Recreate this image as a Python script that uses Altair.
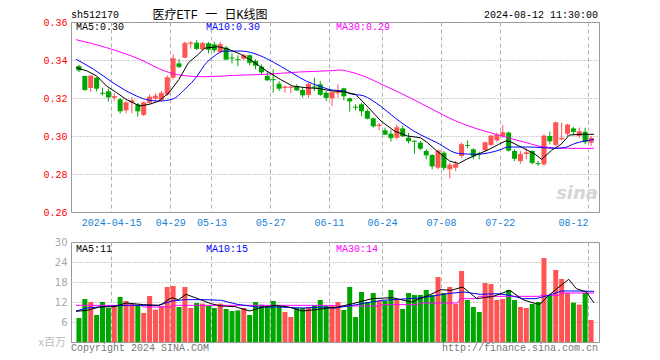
import altair as alt
import pandas as pd

# ---------------- data ----------------
OPEN = [0.3368, 0.3316, 0.3253, 0.3307, 0.3227, 0.3235, 0.3201, 0.3193, 0.3135, 0.3176,
        0.3167, 0.3111, 0.3175, 0.3197, 0.3190, 0.3219, 0.3307, 0.3382, 0.3412, 0.3486,
        0.3491, 0.3456, 0.3488, 0.3482, 0.3442, 0.3465, 0.3412, 0.3405, 0.3407, 0.3425,
        0.3395, 0.3365, 0.3316, 0.3300, 0.3275, 0.3253, 0.3254, 0.3263, 0.3242, 0.3216,
        0.3260, 0.3272, 0.3228, 0.3198, 0.3225, 0.3251, 0.3198, 0.3154, 0.3167, 0.3132,
        0.3093, 0.3053, 0.3030, 0.3012, 0.2991, 0.3040, 0.2991, 0.2975, 0.2965, 0.2921,
        0.2900, 0.2833, 0.2912, 0.2825, 0.2833, 0.2895, 0.2952, 0.2930, 0.2908, 0.2925,
        0.2953, 0.2977, 0.3000, 0.3018, 0.2921, 0.2868, 0.2905, 0.2921, 0.2858, 0.2851,
        0.3000, 0.2953, 0.2982, 0.3012, 0.3040, 0.3000, 0.3023, 0.2965]
HIGH = [0.3374, 0.3318, 0.3318, 0.3310, 0.3254, 0.3249, 0.3225, 0.3200, 0.3184, 0.3205,
        0.3175, 0.3182, 0.3219, 0.3225, 0.3237, 0.3319, 0.3430, 0.3404, 0.3496, 0.3500,
        0.3505, 0.3495, 0.3495, 0.3496, 0.3495, 0.3474, 0.3435, 0.3425, 0.3430, 0.3430,
        0.3404, 0.3377, 0.3342, 0.3351, 0.3289, 0.3267, 0.3263, 0.3272, 0.3254, 0.3280,
        0.3307, 0.3289, 0.3237, 0.3232, 0.3272, 0.3254, 0.3202, 0.3167, 0.3175, 0.3140,
        0.3097, 0.3070, 0.3044, 0.3030, 0.3061, 0.3053, 0.3017, 0.2977, 0.2974, 0.2930,
        0.2904, 0.2928, 0.2921, 0.2860, 0.2868, 0.2965, 0.2977, 0.2935, 0.2918, 0.2970,
        0.3005, 0.3018, 0.3058, 0.3023, 0.2930, 0.2921, 0.2935, 0.2925, 0.2868, 0.3009,
        0.3023, 0.3075, 0.3070, 0.3065, 0.3047, 0.3044, 0.3044, 0.3000]
LOW = [0.3337, 0.3237, 0.3232, 0.3235, 0.3214, 0.3181, 0.3185, 0.3118, 0.3120, 0.3120,
       0.3102, 0.3105, 0.3167, 0.3184, 0.3181, 0.3211, 0.3298, 0.3358, 0.3409, 0.3460,
       0.3453, 0.3450, 0.3435, 0.3439, 0.3435, 0.3400, 0.3382, 0.3368, 0.3400, 0.3372,
       0.3351, 0.3325, 0.3290, 0.3228, 0.3237, 0.3228, 0.3225, 0.3237, 0.3202, 0.3202,
       0.3237, 0.3211, 0.3184, 0.3158, 0.3202, 0.3188, 0.3128, 0.3135, 0.3105, 0.3088,
       0.3044, 0.3030, 0.3005, 0.2970, 0.2982, 0.2995, 0.2960, 0.2907, 0.2925, 0.2877,
       0.2825, 0.2825, 0.2819, 0.2777, 0.2816, 0.2886, 0.2935, 0.2877, 0.2877, 0.2918,
       0.2947, 0.2970, 0.2991, 0.2918, 0.2868, 0.2854, 0.2877, 0.2851, 0.2842, 0.2842,
       0.2956, 0.2947, 0.2977, 0.3000, 0.3005, 0.2991, 0.2956, 0.2947]
CLOSE = [0.3347, 0.3244, 0.3316, 0.3251, 0.3224, 0.3205, 0.3208, 0.3132, 0.3175, 0.3186,
         0.3132, 0.3175, 0.3205, 0.3210, 0.3225, 0.3307, 0.3407, 0.3365, 0.3488, 0.3490,
         0.3460, 0.3488, 0.3456, 0.3453, 0.3482, 0.3404, 0.3410, 0.3402, 0.3425, 0.3386,
         0.3372, 0.3337, 0.3295, 0.3296, 0.3251, 0.3258, 0.3258, 0.3242, 0.3216, 0.3272,
         0.3256, 0.3219, 0.3202, 0.3230, 0.3230, 0.3211, 0.3184, 0.3151, 0.3132, 0.3093,
         0.3053, 0.3058, 0.3009, 0.2991, 0.3044, 0.3000, 0.2974, 0.2972, 0.2935, 0.2900,
         0.2842, 0.2921, 0.2833, 0.2847, 0.2851, 0.2956, 0.2950, 0.2895, 0.2905, 0.2965,
         0.3000, 0.3005, 0.3018, 0.2925, 0.2882, 0.2904, 0.2912, 0.2860, 0.2855, 0.3000,
         0.2974, 0.3070, 0.2988, 0.3058, 0.3023, 0.3023, 0.2970, 0.2988]
VOLUME = [7.2, 12.9, 12.0, 8.1, 12.0, 10.2, 11.1, 13.5, 12.3, 11.5,
          11.1, 8.7, 13.8, 9.7, 10.8, 16.5, 16.8, 10.5, 16.5, 10.2,
          11.7, 11.5, 10.8, 10.2, 11.5, 9.9, 9.3, 9.5, 10.2, 8.1,
          12.0, 11.2, 10.5, 12.3, 10.8, 9.0, 7.5, 10.2, 10.2, 10.5,
          11.1, 12.6, 10.8, 10.8, 12.0, 9.6, 16.5, 7.5, 15.0, 12.0,
          14.7, 12.3, 12.3, 15.6, 12.6, 9.9, 14.7, 14.1, 14.1, 15.6,
          14.1, 19.5, 14.7, 16.5, 11.4, 21.3, 12.6, 10.5, 9.0, 17.7,
          17.4, 12.6, 12.9, 15.6, 12.6, 10.5, 10.2, 11.4, 12.0, 25.2,
          14.1, 21.6, 18.9, 14.7, 11.8, 11.2, 14.7, 6.6]

TICK_POS = [5.5, 15.5, 22.5, 32.5, 42.5, 51.5, 61.5, 71.5, 86.5]
TICK_LABELS = ["2024-04-15", "04-29", "05-13", "05-27", "06-11",
               "06-24", "07-08", "07-22", "08-12"]
PRICE_TICKS = [0.26, 0.28, 0.30, 0.32, 0.34, 0.36]
VOL_TICKS = [6, 12, 18, 24, 30]

MA5_I = [-0.5, 1.4, 3, 4.7, 6.4, 8, 10.3, 12, 13.6, 15.3, 17, 18.6, 20.3, 21.3, 23.6, 25.3,
         27.5, 29.7, 31.9, 34.2, 36.3, 38.6, 40.8, 43, 45, 47, 49.2, 51.3, 53.6, 55.8, 58,
         59.2, 60.8, 63, 64.5, 65.8, 67.5, 69.7, 71.3, 72.5, 73.3, 75.3, 77.5, 78.6, 80.3,
         81.9, 83.3, 85.3, 87.5]
MA5_V = [0.336, 0.3342, 0.3316, 0.3263, 0.3228, 0.3193, 0.3158, 0.3167, 0.3184, 0.3228,
         0.3298, 0.3386, 0.343, 0.3462, 0.347, 0.3458, 0.343, 0.3389, 0.3342, 0.3298,
         0.3263, 0.3254, 0.325, 0.3237, 0.3233, 0.3219, 0.3149, 0.3079, 0.3026, 0.300,
         0.2991, 0.2965, 0.2921, 0.2868, 0.2855, 0.2877, 0.29, 0.293, 0.2956, 0.2974,
         0.297, 0.2939, 0.2904, 0.2877, 0.2925, 0.2956, 0.3005, 0.3009, 0.3009]
MA10_I = [-0.5, 2.5, 5.8, 9.2, 11.3, 13.6, 15.8, 18, 20.3, 21.3, 23, 24.7, 27.5, 29.7, 31.9,
          34.2, 36.3, 38.6, 40.8, 43, 45, 46, 48.3, 51.2, 53.8, 56.9, 60.8, 64.5, 67.5, 69.7,
          71.3, 73, 76.3, 78.7, 80.8, 82.5, 84.2, 87.5]
MA10_V = [0.3404, 0.3351, 0.328, 0.3219, 0.3193, 0.3184, 0.3193, 0.3246, 0.3325, 0.3372,
          0.3421, 0.3447, 0.3447, 0.3435, 0.3407, 0.3368, 0.333, 0.3289, 0.3263, 0.3242,
          0.3237, 0.3223, 0.3212, 0.3158, 0.3093, 0.3026, 0.2965, 0.2908, 0.2904, 0.2912,
          0.2925, 0.2942, 0.2942, 0.2939, 0.2935, 0.2939, 0.296, 0.2982]
MA30_I = [-0.5, 4.7, 10.3, 14.6, 17.5, 21.3, 26.3, 31.8, 37.5, 43, 44.5, 46, 48.3, 51.7,
          56.2, 59.5, 64, 71.5, 76, 79, 83, 87.5]
MA30_V = [0.3507, 0.3465, 0.3404, 0.3342, 0.3319, 0.3312, 0.3319, 0.3325, 0.3337, 0.3344,
          0.3347, 0.3338, 0.3316, 0.3268, 0.3202, 0.3149, 0.3079, 0.3003, 0.2965, 0.2942,
          0.2935, 0.2935]

VMA5_I = [-0.5, 1.4, 3.5, 6, 8, 11, 13.5, 14.2, 15.7, 16.9, 18.2, 20.2, 22.4, 24.2, 26.5, 29,
          31.3, 33.5, 35.6, 37.9, 40.2, 42.5, 43.5, 46.5, 49.8, 53.2, 56.5, 59.8, 61.5, 63.2,
          65.2, 67.6, 70.4, 73.2, 75.4, 77.6, 78.3, 79.8, 81.2, 83.2, 84.5, 86.2, 87.5]
VMA5_V = [9.2, 9.5, 10.5, 10.6, 11.7, 11.2, 11.0, 11.5, 13.3, 12.7, 14.3, 13.0, 11.5, 10.8,
          10.6, 9.3, 10.5, 11.0, 10.5, 9.3, 9.7, 10.2, 10.3, 11.5, 13.0, 13.3, 12.0, 14.3,
          15.7, 15.5, 16.5, 13.0, 13.7, 15.5, 12.7, 11.5, 11.3, 14.0, 16.0, 18.8, 16.0, 15.0,
          11.7]
VMA10_I = [-0.5, 1.4, 4.7, 8, 13.6, 15.8, 18, 21.4, 24.2, 26.9, 30.3, 33.6, 38, 41.4, 43.5,
           46.5, 48.7, 51.5, 54.3, 57.6, 59.8, 62.6, 65.4, 68.2, 71, 73.2, 75.4, 77.6, 79.8,
           82, 84.8, 87.5]
VMA10_V = [9.3, 10.2, 10.7, 11.0, 11.0, 12.3, 12.7, 12.7, 12.5, 11.3, 10.5, 10.5, 10.2, 10.5,
           10.2, 11.0, 11.7, 12.5, 12.8, 13.2, 13.7, 14.5, 15.0, 14.3, 14.5, 14.0, 13.0, 13.0,
           14.0, 15.3, 15.3, 15.2]
VMA30_I = [-0.5, 10.5, 11, 15.5, 16, 43, 44, 51, 51.5, 57.5, 58, 64.3, 64.8, 67.5, 68, 78.2,
           78.6, 81.5, 82, 87.5]
VMA30_V = [11.0, 11.0, 10.5, 10.5, 11.0, 11.0, 10.8, 10.8, 11.2, 11.2, 11.7, 11.7, 13.0, 13.0,
           13.7, 13.7, 14.0, 14.0, 14.7, 14.7]

# ---------------- tables ----------------
N = len(CLOSE)
k = pd.DataFrame({"i": list(range(N)), "open": OPEN, "high": HIGH, "low": LOW,
                  "close": CLOSE, "vol": VOLUME})
k["lo"] = k[["open", "close"]].min(axis=1)
k["hi"] = k[["open", "close"]].max(axis=1)
k["dir"] = ["up" if c >= o else "down" for o, c in zip(OPEN, CLOSE)]

def ser(ii, vv):
    return pd.DataFrame({"i": ii, "v": vv})

ONE = pd.DataFrame({"a": [0]})

RED = "#ff5454"
GREEN = "#00a600"
MONO = "Liberation Mono"
W, H1, H2 = 528, 190, 100

color = alt.Color("dir:N", scale=alt.Scale(domain=["up", "down"], range=[RED, GREEN]),
                  legend=None)
xscale = alt.Scale(domain=[-0.5, N - 0.5], nice=False, zero=False)
pscale = alt.Scale(domain=[PRICE_TICKS[0], PRICE_TICKS[-1]], nice=False, zero=False)
vscale = alt.Scale(domain=[0, VOL_TICKS[-1]], nice=False)

labels_js = "[" + ",".join("'%s'" % s for s in TICK_LABELS) + "]"
pos_js = "[" + ",".join(str(p) for p in TICK_POS) + "]"
label_expr = "%s[indexof(%s, datum.value)]" % (labels_js, pos_js)

x_axis_main = alt.Axis(values=TICK_POS, labelExpr=label_expr, grid=True, gridDash=[4, 3],
                       gridColor="#b0b0b0", ticks=False, domain=False, labelColor="#1a82d6",
                       labelFont=MONO, labelFontSize=10, labelPadding=5, title=None,
                       labelOverlap=False,
                       labelAlign={"condition": {"test": "datum.value > 80", "value": "right"},
                                   "value": "center"})
x_axis_vol = alt.Axis(values=TICK_POS, labels=False, grid=True, gridDash=[4, 3],
                      gridColor="#b0b0b0", ticks=False, domain=False, title=None)
y_axis_main = alt.Axis(values=PRICE_TICKS, format=".2f", grid=True, gridDash=[1, 2],
                       gridColor="#a0a0a0", ticks=False, domain=False, labelColor="#ff0000",
                       labelFont=MONO, labelFontSize=10, labelPadding=4, title=None)
y_axis_vol = alt.Axis(values=VOL_TICKS, grid=True, gridDash=[1, 2], gridColor="#a0a0a0",
                      ticks=False, domain=False, labelColor="#a8a8a8", labelFont="DejaVu Sans",
                      labelFontSize=10, labelPadding=4, title=None)


def text(txt, x, y, color="black", align="left", size=10, font=MONO, **kw):
    return alt.Chart(ONE).mark_text(text=txt, align=align, baseline="middle", color=color,
                                    fontSize=size, font=font, **kw).encode(
        x=alt.value(x), y=alt.value(y))


def X():
    return alt.X("i:Q", scale=xscale, axis=x_axis_main)


def XV():
    return alt.X("i:Q", scale=xscale, axis=x_axis_vol)


# ---------------- price panel ----------------
anchor = alt.Chart(ONE).mark_rule(stroke="white", strokeWidth=1).encode(
    x=alt.value(-62), x2=alt.value(-61), y=alt.value(-13))
wick = alt.Chart(k).mark_rule(strokeWidth=1).encode(
    x=X(), y=alt.Y("low:Q", scale=pscale, axis=y_axis_main), y2="high:Q", color=color)
body = alt.Chart(k).mark_bar(size=5).encode(
    x=X(), y=alt.Y("lo:Q", scale=pscale, axis=y_axis_main), y2="hi:Q", color=color)
doji = alt.Chart(k).mark_tick(orient="horizontal", size=5, thickness=1).encode(
    x=X(), y=alt.Y("close:Q", scale=pscale, axis=y_axis_main), color=color)


def pline(df, col, interp):
    return alt.Chart(df).mark_line(color=col, strokeWidth=1, interpolate=interp).encode(
        x=X(), y=alt.Y("v:Q", scale=pscale, axis=y_axis_main))


main = alt.layer(
    anchor, wick, body, doji,
    pline(ser(MA30_I, MA30_V), "#ff00ff", "monotone"),
    pline(ser(MA10_I, MA10_V), "#0000ff", "monotone"),
    pline(ser(MA5_I, MA5_V), "#000000", "linear"),
    text("sina", 527, 172, color="#d6d6d6", align="right", size=18, font="DejaVu Sans",
         fontWeight="bold", fontStyle="italic"),
    text("sh512170", 0, -7),
    text("医疗ETF 一 日K线图", 139, -7, align="center", size=12,
         font="Liberation Mono, Noto Sans CJK SC"),
    text("2024-08-12 11:30:00", 527, -7, align="right"),
    text("MA5:0.30", 5, 5),
    text("MA10:0.30", 135, 5, color="#0000ff"),
    text("MA30:0.29", 265, 5, color="#ff00ff"),
).properties(width=W, height=H1)

# ---------------- volume panel ----------------
vbars = alt.Chart(k).mark_bar(size=5).encode(
    x=XV(), y=alt.Y("vol:Q", scale=vscale, axis=y_axis_vol), color=color)


def vline(df, col):
    return alt.Chart(df).mark_line(color=col, strokeWidth=1).encode(
        x=XV(), y=alt.Y("v:Q", scale=vscale, axis=y_axis_vol))


vol = alt.layer(
    vbars,
    vline(ser(VMA30_I, VMA30_V), "#ff00ff"),
    vline(ser(VMA10_I, VMA10_V), "#0000ff"),
    vline(ser(VMA5_I, VMA5_V), "#000000"),
    text("MA5:11", 5, 7),
    text("MA10:15", 135, 7, color="#0000ff"),
    text("MA30:14", 265, 7, color="#ff00ff"),
    text("x百万", -5, 101, color="#bbbbbb", align="right", size=11, font="Noto Sans CJK SC"),
    text("Copyright 2024 SINA.COM", 0, 106, color="#777777"),
    text("http://finance.sina.com.cn", 527, 106, color="#777777", align="right"),
).properties(width=W, height=H2)

chart = alt.vconcat(main, vol, spacing=8).properties(
    padding=0, background="white"
).configure_view(stroke="#999999", strokeWidth=1)

chart.save("out.html", embed_options={"renderer": "svg", "actions": False})
